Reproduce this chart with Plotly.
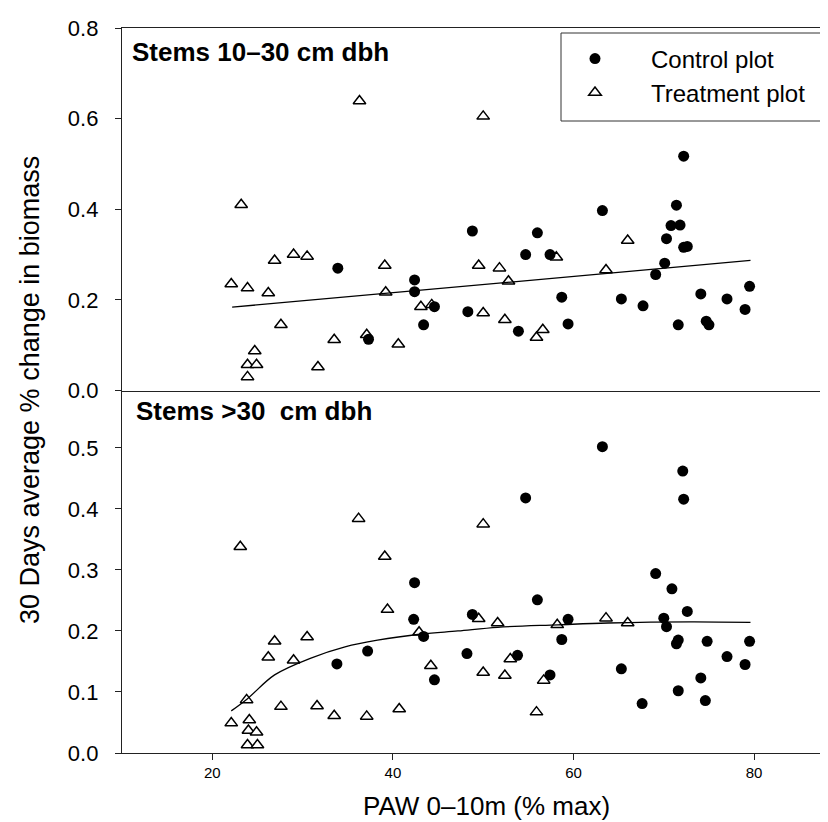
import plotly.graph_objects as go

# --- data ---
# top panel: stems 10-30 cm dbh
top_ctrl_x = [33.9, 37.3, 42.4, 42.4, 43.4, 44.6, 48.3, 48.8, 53.9, 54.7, 56.0, 57.4, 58.7, 59.4, 63.2, 65.3, 67.7,
              69.1, 70.1, 70.3, 70.8, 71.4, 71.6, 71.8, 72.2, 72.2, 72.6, 74.1, 74.7, 75.0, 77.0, 79.0, 79.5]
top_ctrl_y = [0.270, 0.113, 0.244, 0.218, 0.145, 0.185, 0.174, 0.352, 0.131, 0.300, 0.348, 0.300, 0.206, 0.147, 0.397, 0.202, 0.187,
              0.256, 0.281, 0.335, 0.364, 0.409, 0.145, 0.365, 0.517, 0.316, 0.318, 0.213, 0.153, 0.145, 0.202, 0.179, 0.230]
top_trt_x = [22.1, 23.2, 23.9, 23.9, 23.9, 24.7, 24.9, 26.2, 26.9, 27.6, 29.0, 30.5, 31.7, 33.5, 36.3, 37.1,
             39.1, 39.2, 40.6, 43.1, 44.3, 49.5, 50.0, 50.0, 51.8, 52.4, 52.8, 55.9, 56.6, 58.1, 63.6, 66.0]
top_trt_y = [0.235, 0.410, 0.226, 0.057, 0.030, 0.087, 0.057, 0.215, 0.287, 0.145, 0.300, 0.296, 0.052, 0.112, 0.639, 0.123,
             0.276, 0.217, 0.102, 0.185, 0.189, 0.276, 0.605, 0.171, 0.270, 0.156, 0.241, 0.117, 0.134, 0.294, 0.266, 0.331]
top_fit_x = [22.2, 79.6]
top_fit_y = [0.184, 0.287]

# bottom panel: stems >30 cm dbh
bot_ctrl_x = [33.8, 37.2, 42.3, 42.4, 43.4, 44.6, 48.2, 48.8, 53.8, 54.7, 56.0, 57.4, 58.7, 59.4, 63.2, 65.3, 67.6,
              69.1, 70.0, 70.3, 70.9, 71.4, 71.6, 71.6, 72.1, 72.2, 72.6, 74.1, 74.6, 74.8, 77.0, 79.0, 79.5]
bot_ctrl_y = [0.146, 0.167, 0.219, 0.279, 0.191, 0.120, 0.163, 0.227, 0.160, 0.418, 0.251, 0.128, 0.186, 0.219, 0.502, 0.138, 0.081,
              0.294, 0.221, 0.207, 0.269, 0.179, 0.185, 0.102, 0.462, 0.416, 0.232, 0.123, 0.086, 0.183, 0.158, 0.145, 0.183]
bot_trt_x = [22.1, 23.1, 23.8, 23.9, 24.0, 24.1, 24.9, 25.0, 26.2, 26.9, 27.6, 29.0, 30.5, 31.6, 33.5, 36.2, 37.1,
             39.1, 39.4, 40.7, 42.9, 44.2, 49.5, 50.0, 50.0, 51.6, 52.4, 53.0, 55.9, 56.7, 58.2, 63.6, 66.0]
bot_trt_y = [0.049, 0.338, 0.087, 0.013, 0.037, 0.054, 0.034, 0.013, 0.157, 0.183, 0.076, 0.152, 0.190, 0.077, 0.061, 0.384, 0.060,
             0.322, 0.235, 0.072, 0.198, 0.143, 0.220, 0.375, 0.132, 0.213, 0.127, 0.154, 0.067, 0.119, 0.210, 0.221, 0.213]
bot_fit_x = [22.1, 23.9, 26.9, 31.0, 34.7, 38.3, 43.2, 47.2, 51.6, 58.3, 63.8, 73.0, 79.6]
bot_fit_y = [0.069, 0.089, 0.128, 0.156, 0.174, 0.185, 0.195, 0.200, 0.206, 0.210, 0.213, 0.215, 0.214]

x_ticks = [20, 40, 60, 80]

FONT = "Liberation Sans, Arial, sans-serif"
W, H = 828, 822
L, R, T, B = 114, 0, 20, 77


def px_x(p):
    return (p - L) / (W - L - R)


def px_y(p):
    return (H - B - p) / (H - T - B)


fig = go.Figure()

ctrl_marker = dict(symbol="circle", size=11, color="black", line=dict(color="black", width=0))
trt_marker = dict(symbol="triangle-up", size=11, color="white", line=dict(color="black", width=1.5))

# top panel
fig.add_trace(go.Scatter(x=top_trt_x, y=top_trt_y, mode="markers", marker=trt_marker,
                         name="Treatment plot", legend="legend2", xaxis="x2", yaxis="y2"))
fig.add_trace(go.Scatter(x=top_ctrl_x, y=top_ctrl_y, mode="markers", marker=ctrl_marker,
                         name="Control plot", legend="legend", xaxis="x2", yaxis="y2"))
fig.add_trace(go.Scatter(x=top_fit_x, y=top_fit_y, mode="lines", line=dict(color="black", width=1.3),
                         showlegend=False, xaxis="x2", yaxis="y2"))

# bottom panel
fig.add_trace(go.Scatter(x=bot_trt_x, y=bot_trt_y, mode="markers", marker=trt_marker,
                         showlegend=False, xaxis="x", yaxis="y"))
fig.add_trace(go.Scatter(x=bot_ctrl_x, y=bot_ctrl_y, mode="markers", marker=ctrl_marker,
                         showlegend=False, xaxis="x", yaxis="y"))
fig.add_trace(go.Scatter(x=bot_fit_x, y=bot_fit_y, mode="lines", line=dict(color="black", width=1.3, shape="spline"),
                         showlegend=False, xaxis="x", yaxis="y"))

axis_line = dict(showline=True, linecolor="#222", linewidth=1.3, showgrid=False, zeroline=False)
xr = [10, 10 + (W - L - R) / 9.03]
leg_font = dict(size=24, family=FONT)

fig.update_layout(
    width=W, height=H,
    margin=dict(l=L, r=R, t=T, b=B),
    plot_bgcolor="white", paper_bgcolor="white",
    font=dict(family=FONT, color="black"),
    xaxis=dict(domain=[0, 1], anchor="y", range=xr, tickvals=x_ticks, ticks="outside", ticklen=6,
               tickcolor="#222", tickfont=dict(size=15), **axis_line),
    xaxis2=dict(domain=[0, 1], anchor="y2", range=xr, showticklabels=False, ticks="", mirror=True, **axis_line),
    yaxis=dict(domain=[0, 0.5], anchor="x", range=[0, 0.594], tickvals=[0, 0.1, 0.2, 0.3, 0.4, 0.5],
               tickformat=".1f", ticks="outside", ticklen=6, tickcolor="#222", tickfont=dict(size=22),
               ticklabelstandoff=12, **axis_line),
    yaxis2=dict(domain=[0.5, 1], anchor="x2", range=[0, 0.8], tickvals=[0, 0.2, 0.4, 0.6, 0.8],
                tickformat=".1f", ticks="outside", ticklen=6, tickcolor="#222", tickfont=dict(size=22),
                ticklabelstandoff=12, **axis_line),
    legend=dict(x=px_x(531), y=px_y(51), xanchor="left", yanchor="middle", bgcolor="rgba(0,0,0,0)",
                borderwidth=0, itemwidth=102, font=leg_font),
    legend2=dict(x=px_x(531), y=px_y(85), xanchor="left", yanchor="middle", bgcolor="rgba(0,0,0,0)",
                 borderwidth=0, itemwidth=102, font=leg_font),
    shapes=[dict(type="rect", xref="paper", yref="paper", x0=px_x(553), x1=1.5, y0=px_y(113), y1=px_y(25),
                 line=dict(color="#333", width=1), fillcolor="rgba(0,0,0,0)", layer="above")],
    annotations=[
        dict(text="<b>Stems 10–30 cm dbh</b>", xref="paper", yref="paper", x=px_x(122), y=px_y(44),
             xanchor="left", yanchor="middle", showarrow=False, font=dict(size=26, family=FONT)),
        dict(text="<b>Stems >30\u00a0 cm dbh</b>", xref="paper", yref="paper", x=px_x(126), y=px_y(403),
             xanchor="left", yanchor="middle", showarrow=False, font=dict(size=26, family=FONT)),
        dict(text="30 Days average % change in biomass", xref="paper", yref="paper", x=px_x(22), y=px_y(382),
             xanchor="center", yanchor="middle", textangle=-90, showarrow=False, font=dict(size=27, family=FONT)),
        dict(text="PAW 0–10m (% max)", xref="paper", yref="paper", x=px_x(478), y=px_y(798),
             xanchor="center", yanchor="middle", showarrow=False, font=dict(size=26, family=FONT)),
    ],
)

fig.write_html("out.html")
